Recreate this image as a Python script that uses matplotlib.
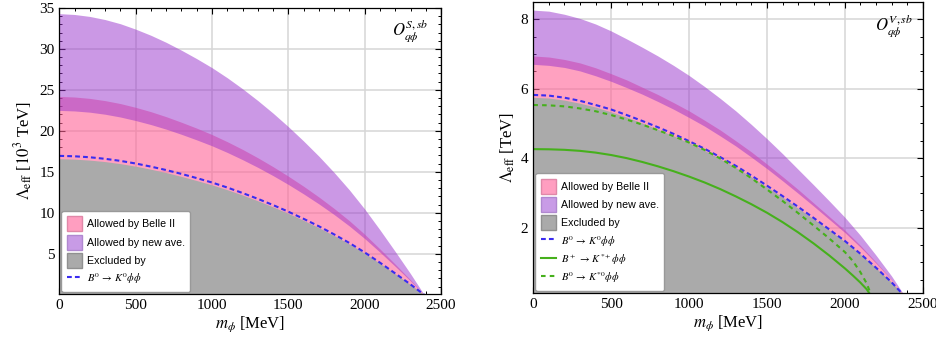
import numpy as np
import matplotlib
matplotlib.use("Agg")
import matplotlib.pyplot as plt
from matplotlib.patches import Patch
from matplotlib.lines import Line2D
from matplotlib.ticker import MultipleLocator

plt.rcParams['font.family'] = ['Liberation Serif', 'DejaVu Serif']
plt.rcParams['mathtext.fontset'] = 'stix'

# m_phi grid (MeV)
m_phi = [0, 100, 200, 300, 400, 500, 600, 700, 800, 900, 1000, 1100, 1200,
         1300, 1400, 1500, 1600, 1700, 1800, 1900, 2000, 2100, 2200, 2300, 2390]
m_phi_kst = [0, 100, 200, 300, 400, 500, 600, 700, 800, 900, 1000, 1100, 1200,
             1300, 1400, 1500, 1600, 1700, 1800, 1900, 2000, 2050, 2100, 2140, 2175]

# left panel, O^S_{q phi} (10^3 TeV)
S_ave_up = [34.3, 34.2, 33.96, 33.58, 33.07, 32.41, 31.66, 30.8, 29.84, 28.81, 27.71, 26.48, 25.14,
            23.7, 22.16, 20.51, 18.76, 16.91, 14.92, 12.79, 10.46, 7.92, 5.28, 2.57, 0]
S_belle_up = [24.2, 24.13, 23.96, 23.69, 23.33, 22.87, 22.34, 21.73, 21.05, 20.33, 19.55, 18.68, 17.74,
              16.72, 15.63, 14.47, 13.24, 11.93, 10.53, 9.03, 7.38, 5.59, 3.73, 1.82, 0]
S_ave_low = [22.5, 22.43, 22.28, 22.03, 21.69, 21.26, 20.77, 20.21, 19.58, 18.9, 18.18, 17.37, 16.49,
             15.55, 14.54, 13.46, 12.31, 11.09, 9.79, 8.39, 6.86, 5.2, 3.47, 1.69, 0]
S_B0K0 = [16.95, 16.9, 16.78, 16.59, 16.34, 16.02, 15.64, 15.22, 14.75, 14.24, 13.7, 13.09, 12.42,
          11.71, 10.95, 10.14, 9.27, 8.36, 7.37, 6.32, 5.17, 3.92, 2.61, 1.27, 0]
S_excl = [16.6, 16.55, 16.43, 16.25, 16.0, 15.69, 15.32, 14.91, 14.44, 13.94, 13.41, 12.82, 12.17,
          11.47, 10.72, 9.93, 9.08, 8.18, 7.22, 6.19, 5.06, 3.83, 2.56, 1.25, 0]

# right panel, O^V_{q phi} (TeV)
V_ave_up = [8.26, 8.23, 8.14, 8.02, 7.86, 7.66, 7.43, 7.19, 6.94, 6.67, 6.38, 6.06, 5.72,
            5.36, 4.97, 4.56, 4.13, 3.68, 3.23, 2.77, 2.3, 1.78, 1.21, 0.61, 0]
V_belle_up = [6.94, 6.91, 6.84, 6.74, 6.6, 6.43, 6.25, 6.04, 5.83, 5.6, 5.36, 5.09, 4.81,
              4.5, 4.18, 3.83, 3.47, 3.1, 2.71, 2.32, 1.93, 1.49, 1.01, 0.51, 0]
V_ave_low = [6.7, 6.67, 6.61, 6.51, 6.37, 6.21, 6.03, 5.84, 5.63, 5.41, 5.17, 4.92, 4.64,
             4.35, 4.03, 3.7, 3.35, 2.99, 2.62, 2.24, 1.86, 1.44, 0.98, 0.5, 0]
V_B0K0 = [5.82, 5.8, 5.74, 5.65, 5.53, 5.4, 5.24, 5.07, 4.89, 4.7, 4.49, 4.27, 4.03,
          3.78, 3.5, 3.21, 2.91, 2.6, 2.28, 1.95, 1.62, 1.25, 0.85, 0.43, 0]
V_excl = [5.75, 5.73, 5.67, 5.58, 5.47, 5.33, 5.18, 5.01, 4.83, 4.64, 4.44, 4.22, 3.98,
          3.73, 3.46, 3.17, 2.88, 2.56, 2.25, 1.93, 1.6, 1.24, 0.84, 0.43, 0]
V_BpKstp = [4.26, 4.255, 4.24, 4.21, 4.16, 4.09, 4.0, 3.89, 3.765, 3.625, 3.47, 3.3, 3.11,
            2.9, 2.675, 2.43, 2.16, 1.865, 1.545, 1.2, 0.83, 0.63, 0.42, 0.23, 0]
V_B0Kst0 = [5.53, 5.52, 5.49, 5.43, 5.35, 5.24, 5.11, 4.965, 4.805, 4.635, 4.45, 4.235, 3.99,
            3.72, 3.425, 3.1, 2.77, 2.42, 2.06, 1.69, 1.3, 1.05, 0.72, 0.4, 0]

pink = (1.0, 0.39, 0.59)
purple = (0.6, 0.196, 0.8)
grey = '#aaaaaa'
blue = '#3a2cf0'
green = '#46b01c'
blue_ls = (0, (2.3, 1.5))
green_ls = (0, (2.2, 2.0))

lab_belle = 'Allowed by Belle II'
lab_ave = 'Allowed by new ave.'
lab_excl = 'Excluded by'
lab_b0k0 = r'$B^0\,\rightarrow\,K^0\phi\phi$'
lab_bpk = r'$B^+\,\rightarrow\,K^{*+}\phi\phi$'
lab_b0kst = r'$B^0\,\rightarrow\,K^{*0}\phi\phi$'


def style_axis(ax, ymaj, ymin):
    ax.set_axisbelow(True)
    ax.grid(True, which='major', color='#d6d6d6', lw=1.1)
    ax.xaxis.set_major_locator(MultipleLocator(500))
    ax.xaxis.set_minor_locator(MultipleLocator(100))
    ax.yaxis.set_major_locator(MultipleLocator(ymaj))
    ax.yaxis.set_minor_locator(MultipleLocator(ymin))
    ax.tick_params(which='both', direction='in', top=True, right=True, labelsize=11)
    ax.tick_params(which='major', length=4.5, width=0.8)
    ax.tick_params(which='minor', length=2.5, width=0.7)
    for sp in ax.spines.values():
        sp.set_linewidth(0.9)
    ax.set_xlim(0, 2500)
    ax.set_xlabel(r'$m_\phi$ [MeV]', fontsize=12, labelpad=2)


def draw_bands(ax, excl, belle_up, ave_low, ave_up):
    ax.fill_between(m_phi, 0, belle_up, color=pink, alpha=0.6, lw=0)
    ax.fill_between(m_phi, ave_low, ave_up, color=purple, alpha=0.5, lw=0)
    ax.fill_between(m_phi, 0, excl, color=grey, lw=0)


def base_handles():
    return [Patch(facecolor='#ff9ec0', edgecolor='#e088a8', label=lab_belle),
            Patch(facecolor='#c89be6', edgecolor='#b088d0', label=lab_ave),
            Patch(facecolor=grey, edgecolor='#909090', label=lab_excl),
            Line2D([], [], color=blue, ls=blue_ls, lw=1.5, label=lab_b0k0)]


def add_legend(ax, handles):
    return ax.legend(handles=handles, loc='lower left',
                     prop={'family': 'Liberation Sans', 'size': 7.7},
                     handlelength=1.45, handleheight=1.8, labelspacing=0.3,
                     handletextpad=0.4, borderpad=0.5, borderaxespad=0.2,
                     framealpha=1, edgecolor='#999999', fancybox=True)


fig = plt.figure(figsize=(9.37, 3.43), dpi=100)
ax1 = fig.add_axes([0.0633, 0.1429, 0.4074, 0.834])
ax2 = fig.add_axes([0.5692, 0.1458, 0.4155, 0.849])

# left panel
draw_bands(ax1, S_excl, S_belle_up, S_ave_low, S_ave_up)
ax1.plot(m_phi, S_B0K0, color=blue, ls=blue_ls, lw=1.5)
style_axis(ax1, 5, 1)
ax1.set_ylim(0.1, 35)
ax1.set_ylabel(r'$\Lambda_{\rm eff}$ [$10^3$ TeV]', fontsize=12, labelpad=3)
ax1.text(0.968, 0.968, r'$O_{q\phi}^{S,sb}$', transform=ax1.transAxes,
         ha='right', va='top', fontsize=12)
add_legend(ax1, base_handles())

# right panel
draw_bands(ax2, V_excl, V_belle_up, V_ave_low, V_ave_up)
ax2.plot(m_phi, V_B0K0, color=blue, ls=blue_ls, lw=1.5)
ax2.plot(m_phi_kst, V_BpKstp, color=green, lw=1.5)
ax2.plot(m_phi_kst, V_B0Kst0, color=green, ls=green_ls, lw=1.5)
style_axis(ax2, 2, 0.5)
ax2.set_ylim(0.12, 8.5)
ax2.set_ylabel(r'$\Lambda_{\rm eff}$ [TeV]', fontsize=12, labelpad=3)
ax2.text(0.974, 0.965, r'$O_{q\phi}^{V,sb}$', transform=ax2.transAxes,
         ha='right', va='top', fontsize=12)
add_legend(ax2, base_handles() + [
    Line2D([], [], color=green, lw=1.5, label=lab_bpk),
    Line2D([], [], color=green, ls=green_ls, lw=1.5, label=lab_b0kst)])

fig.savefig('out.png', dpi=100)
